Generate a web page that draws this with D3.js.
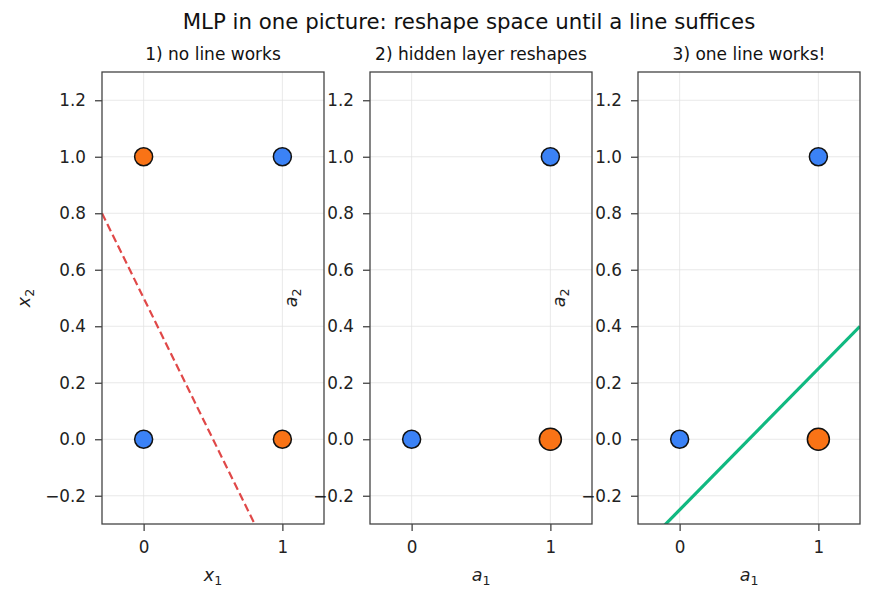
<!DOCTYPE html>
<html><head><meta charset="utf-8">
<script src="https://cdn.jsdelivr.net/npm/d3@7"></script>
<style>body{margin:0;background:#fff;} svg{font-family:"DejaVu Sans",sans-serif;}</style>
</head><body><svg id="c" width="875" height="598"></svg>
<script>
const title = "MLP in one picture: reshape space until a line suffices";
const panelTitles = ["1) no line works", "2) hidden layer reshapes", "3) one line works!"];
const xLabels = [["x","1"],["a","1"],["a","1"]];
const yLabels = [["x","2"],["a","2"],["a","2"]];
const xTicks = [0, 1];
const yTicks = [-0.2, 0, 0.2, 0.4, 0.6, 0.8, 1.0, 1.2];
const domain = [-0.3, 1.3];
// panel 1 points (input XOR)
const p1x = [0, 0, 1, 1];
const p1y = [0, 1, 0, 1];
const p1cls = [0, 1, 1, 0];
const p1size = [9, 9, 9, 9];
// panels 2,3 points (hidden space)
const p2x = [0, 1, 1];
const p2y = [0, 0, 1];
const p2cls = [0, 1, 0];
const p2size = [9, 11, 9];
// lines: y = slope*x + intercept
const line1 = {slope: -1, intercept: 0.5};
const line3 = {slope: 0.5, intercept: -0.25};
const colors = ["#3b82f6", "#f97316"];

const svg = d3.select("#c");
svg.append("text").attr("x", 469).attr("y", 29).attr("text-anchor","middle")
  .attr("font-size", 21.3).attr("fill","#111").text(title);

const lefts = [102, 370, 638];
const W = 222, T0 = 72, H = 452;

lefts.forEach((L, i) => {
  const g = svg.append("g").attr("transform", `translate(${L},${T0})`);
  const x = d3.scaleLinear().domain(domain).range([0, W]);
  const y = d3.scaleLinear().domain(domain).range([H, 0]);
  const cid = "clip" + i;
  g.append("clipPath").attr("id", cid).append("rect").attr("width", W).attr("height", H);
  // grid
  g.append("g").selectAll("line").data(xTicks).join("line")
    .attr("x1", d=>x(d)).attr("x2", d=>x(d)).attr("y1",0).attr("y2",H)
    .attr("stroke","#e3e3e3").attr("stroke-width",0.8);
  g.append("g").selectAll("line").data(yTicks).join("line")
    .attr("y1", d=>y(d)).attr("y2", d=>y(d)).attr("x1",0).attr("x2",W)
    .attr("stroke","#e3e3e3").attr("stroke-width",0.8);
  // axes
  const xa = g.append("g").attr("transform",`translate(0,${H})`)
    .call(d3.axisBottom(x).tickValues(xTicks).tickFormat(d3.format("d")).tickSize(7).tickPadding(10));
  const ya = g.append("g")
    .call(d3.axisLeft(y).tickValues(yTicks).tickFormat(d => d < 0 ? "\u2212" + Math.abs(d).toFixed(1) : d.toFixed(1)).tickSize(7).tickPadding(9));
  [xa, ya].forEach(a => {
    a.select(".domain").remove();
    a.selectAll(".tick line").attr("stroke","#444").attr("stroke-width",1.3);
    a.selectAll("text").attr("font-size",16.8).attr("fill","#222").attr("font-family","DejaVu Sans");
  });
  // lines
  if (i === 0 || i === 2) {
    const ln = i === 0 ? line1 : line3;
    const pts = domain.map(v => [x(v), y(ln.slope*v + ln.intercept)]);
    g.append("path").attr("clip-path", `url(#${cid})`)
      .attr("d", d3.line()(pts)).attr("fill","none")
      .attr("stroke", i===0 ? "#e04848" : "#10b981")
      .attr("stroke-width", i===0 ? 2.2 : 3.2)
      .attr("stroke-dasharray", i===0 ? "8,4" : null);
  }
  // points
  const px = i===0 ? p1x : p2x, py = i===0 ? p1y : p2y, pc = i===0 ? p1cls : p2cls, ps = i===0 ? p1size : p2size;
  g.append("g").selectAll("circle").data(px.map((d,k)=>k)).join("circle")
    .attr("cx", k=>x(px[k])).attr("cy", k=>y(py[k])).attr("r", k=>ps[k])
    .attr("fill", k=>colors[pc[k]]).attr("stroke","#111").attr("stroke-width",1.5);
  // frame
  g.append("rect").attr("width",W).attr("height",H).attr("fill","none")
    .attr("stroke","#444").attr("stroke-width",1.3);
  // titles
  g.append("text").attr("x", W/2).attr("y", -12).attr("text-anchor","middle")
    .attr("font-size",17).attr("fill","#111").text(panelTitles[i]);
  const xl = g.append("text").attr("x", W/2).attr("y", H + 57).attr("text-anchor","middle")
    .attr("font-size",17.5).attr("fill","#222");
  xl.append("tspan").attr("font-style","italic").text(xLabels[i][0]);
  xl.append("tspan").attr("font-size",12.5).attr("dy",3.5).text(xLabels[i][1]);
  const yx = i===0 ? -72 : -73;
  const yl = g.append("text").attr("transform",`translate(${yx},${H/2}) rotate(-90)`).attr("text-anchor","middle")
    .attr("font-size",17.5).attr("fill","#222");
  yl.append("tspan").attr("font-style","italic").text(yLabels[i][0]);
  yl.append("tspan").attr("font-size",12.5).attr("dy",3.5).text(yLabels[i][1]);
});
</script></body></html>
